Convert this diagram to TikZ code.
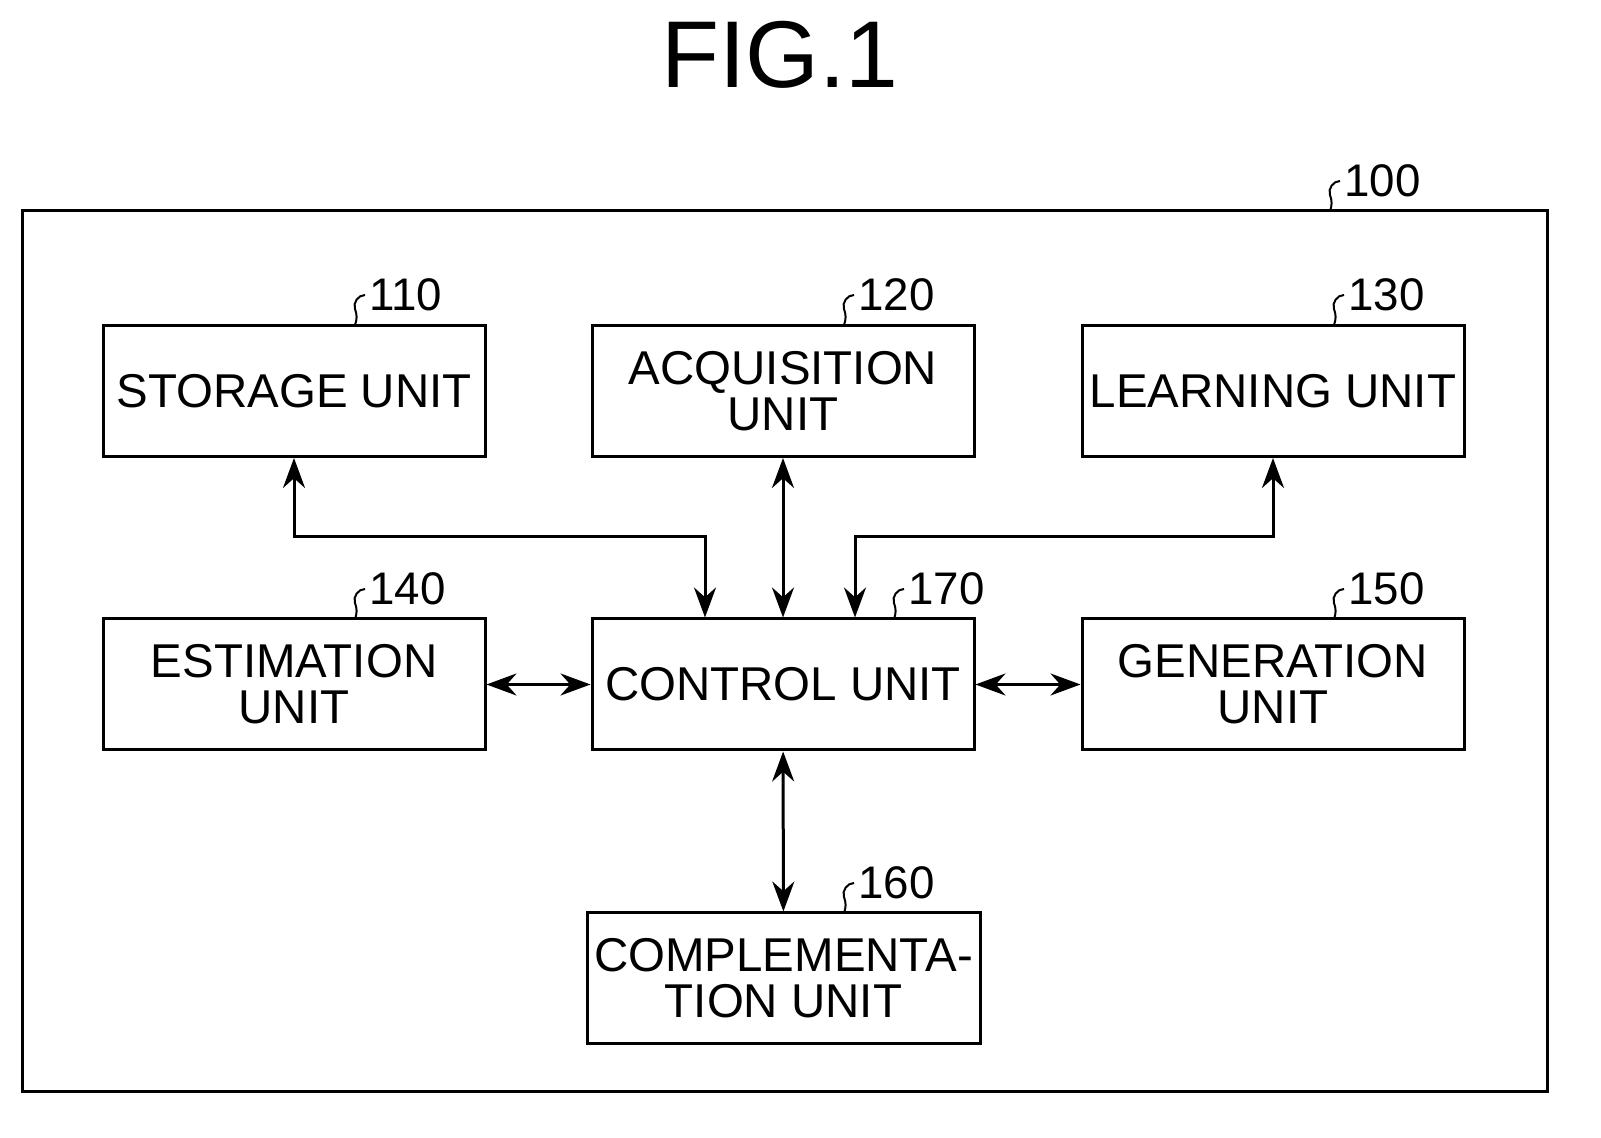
\documentclass[tikz,border=0pt]{standalone}
\usepackage{fontspec}
\setmainfont{Liberation Sans}
\usetikzlibrary{positioning,arrows.meta}
\tikzset{
	unit/.style = {draw, line width = 0.3mm, minimum width = 3.82cm, minimum height = 1.31cm, align = center, inner sep = 0pt, font = \fontsize{13.5}{13}\selectfont},
	link/.style = {{Stealth[length=3mm,width=2.2mm]}-{Stealth[length=3mm,width=2.2mm]}, line width = 0.3mm},
	refnum/.style = {anchor = west, inner sep = 1pt, font = \fontsize{13}{15}\selectfont}
}
\newcommand{\refmark}[2]{%
	\draw[line width = 0.2mm] (#1) to[out=70,in=-70] ++(0,0.16) to[out=110,in=180] ++(0.1,0.14) node[refnum] {#2};}
\begin{document}
\begin{tikzpicture}
	\useasboundingbox (0,0) rectangle (16.01,-11.38);
	
	\node[font = \fontsize{27}{30}\selectfont] (title) at (7.8,-0.55) {FIG.1};
	\draw[line width = 0.3mm] (0.22,-2.11) rectangle (15.47,-10.92);
	\coordinate (m100) at (13.30,-2.11);
	\refmark{m100}{100}
	
	\node[unit] (storage) at (2.94,-3.91) {STORAGE UNIT};
	\node[unit] (acq) at (7.83,-3.91) {ACQUISITION\\UNIT};
	\node[unit] (learn) at (12.73,-3.91) {LEARNING UNIT};
	\node[unit] (est) at (2.94,-6.845) {ESTIMATION\\UNIT};
	\node[unit] (ctrl) at (7.83,-6.845) {CONTROL UNIT};
	\node[unit] (gen) at (12.73,-6.845) {GENERATION\\UNIT};
	\node[unit, minimum width = 3.93cm] (comp) at (7.835,-9.785) {COMPLEMENTA-\\TION UNIT};
	
	\coordinate (m110) at (3.55,-3.25); \refmark{m110}{110}
	\coordinate (m120) at (8.44,-3.25); \refmark{m120}{120}
	\coordinate (m130) at (13.34,-3.25); \refmark{m130}{130}
	\coordinate (m140) at (3.55,-6.19); \refmark{m140}{140}
	\coordinate (m170) at (8.94,-6.19); \refmark{m170}{170}
	\coordinate (m150) at (13.34,-6.19); \refmark{m150}{150}
	\coordinate (m160) at (8.44,-9.13); \refmark{m160}{160}
	
	\draw[link] (storage.south) |- (7.05,-5.37) -- (ctrl.north -| 7.05,0);
	\draw[link] (learn.south) |- (8.55,-5.37) -- (ctrl.north -| 8.55,0);
	\draw[link] (acq) -- (ctrl);
	\draw[link] (est) -- (ctrl);
	\draw[link] (ctrl) -- (gen);
	\draw[link] (ctrl) -- (comp);
	
\end{tikzpicture}
\end{document}
